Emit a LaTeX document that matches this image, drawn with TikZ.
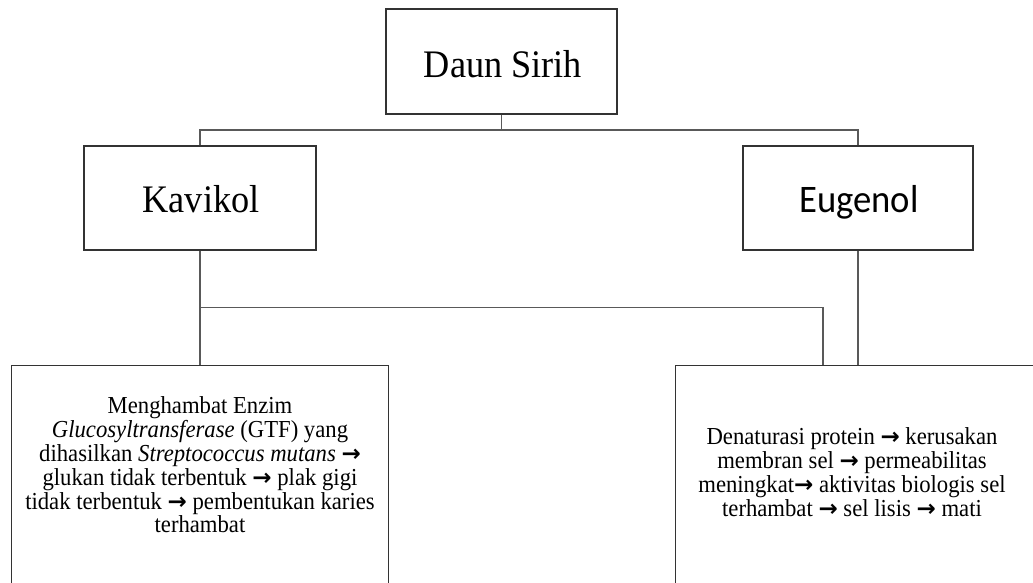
\documentclass[tikz,border=0pt]{standalone}
\usepackage{fontspec}
\setmainfont{Liberation Serif}[FakeStretch=0.93]
\newfontfamily\calibri{Carlito}[FakeStretch=0.94]
\newfontfamily\arrfont{DejaVu Sans}
\newcommand{\arr}{{\arrfont\bfseries\fontsize{23}{24}\selectfont →}}
\begin{document}
\begin{tikzpicture}[x=1pt,y=-1pt,
  box/.style={draw=black!80,line width=1.1pt,fill=white,inner sep=0pt},
  conn/.style={draw=black!65,line width=1.3pt},
  bigtext/.style={font=\fontsize{39}{42}\selectfont},
  smalltext/.style={align=center,inner sep=0pt,font=\fontsize{24.4}{23.8}\selectfont}]
\useasboundingbox (0,0) rectangle (1033,582);
\clip (0,0) rectangle (1033,582);
% boxes
\node[box,minimum width=231pt,minimum height=105pt] (daun) at (501.5,61.5) {};
\node[bigtext] (daunt) at (503,64) {Daun Sirih};
\node[box,minimum width=232pt,minimum height=104pt] (kav) at (200,198) {};
\node[bigtext] (kavt) at (201,199) {Kavikol};
\node[box,minimum width=230pt,minimum height=104pt] (eug) at (858,198) {};
\node[bigtext,font=\calibri\fontsize{39}{42}\selectfont] (eugt) at (859,202) {Eugenol};
\node[box,minimum width=377pt,minimum height=240pt,anchor=north west] (kbox) at (11,365) {};
\node[box,minimum width=380pt,minimum height=240pt,anchor=north west] (rbox) at (675,365) {};
\node[smalltext] (ktext) at (200,465) {Menghambat Enzim\\
\textit{Glucosyltransferase} (GTF) yang\\
dihasilkan \textit{Streptococcus mutans} \arr\\
glukan tidak terbentuk \arr\ plak gigi\\
tidak terbentuk \arr\ pembentukan karies\\
terhambat};
\node[smalltext] (etext) at (852,472) {Denaturasi protein \arr\ kerusakan\\
membran sel \arr\ permeabilitas\\
meningkat\arr\ aktivitas biologis sel\\
terhambat \arr\ sel lisis \arr\ mati};
% connectors
\coordinate (bus1) at (0,130);
\coordinate (c2) at (823,307.5);
\draw[conn] (daun.south) -- (daun.south |- bus1);
\draw[conn] (kav.north) -- (kav.north |- bus1) -- (eug.north |- bus1) -- (eug.north);
\draw[conn] (kav.south) -- (kav.south |- kbox.north);
\draw[conn] (kav.south |- c2) -- (c2) -- (c2 |- rbox.north);
\draw[conn] (eug.south) -- (eug.south |- rbox.north);
\end{tikzpicture}
\end{document}
